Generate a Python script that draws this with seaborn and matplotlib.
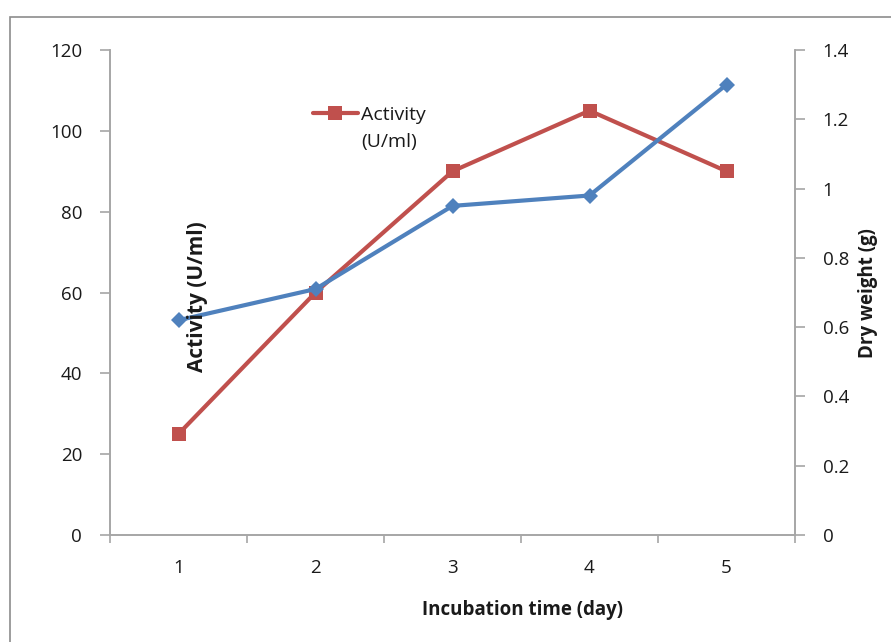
import matplotlib
matplotlib.use("Agg")
import matplotlib.pyplot as plt
import seaborn as sns
import pandas as pd
from matplotlib.patches import Rectangle
from matplotlib.lines import Line2D

days = [1, 2, 3, 4, 5]
activity = [25, 60, 90, 105, 90]
dry_weight = [0.62, 0.71, 0.95, 0.98, 1.30]
left_ticks = [0, 20, 40, 60, 80, 100, 120]
right_ticks = [0, 0.2, 0.4, 0.6, 0.8, 1.0, 1.2, 1.4]
right_labels = ["0", "0.2", "0.4", "0.6", "0.8", "1", "1.2", "1.4"]

sns.set_theme(style="white")
plt.rcParams['font.family'] = ['Open Sans', 'DejaVu Sans']

RED = "#C0504D"
BLUE = "#4F81BD"
GRAY = "#A6A6A6"
TXT = "#1A1A1A"

df = pd.DataFrame({"day": days, "activity": activity, "dry": dry_weight})

fig = plt.figure(figsize=(8.91, 6.42), dpi=100)
fig.patches.append(Rectangle((10/891, -0.1), 1.2, 1 - 17/642 + 0.1, transform=fig.transFigure,
                             fill=False, edgecolor="#8C8C8C", linewidth=1.2))
ax = fig.add_axes([110/891, 1 - 535/642, (795-110)/891, (535-50)/642])
ax2 = ax.twinx()

sns.lineplot(data=df, x="day", y="activity", ax=ax, color=RED, linewidth=3,
             marker="s", markersize=10, markeredgewidth=0, legend=False)
sns.lineplot(data=df, x="day", y="dry", ax=ax2, color=BLUE, linewidth=3,
             marker="D", markersize=8, markeredgewidth=0, legend=False)

ax.set_xlim(0.5, 5.5)
ax.set_ylim(0, 120)
ax2.set_ylim(0, 1.4)
ax.set_yticks(left_ticks)
ax.set_yticklabels([str(t) for t in left_ticks])
ax2.set_yticks(right_ticks)
ax2.set_yticklabels(right_labels)

ax.set_xticks([0.5, 1.5, 2.5, 3.5, 4.5, 5.5], minor=False)
ax.set_xticklabels([])
ax.set_xticks(days, minor=True)
ax.set_xticklabels([str(d) for d in days], minor=True)
ax.tick_params(axis="x", which="major", direction="out", length=6, width=1.2, color=GRAY, bottom=True)
ax.tick_params(axis="x", which="minor", length=0, labelsize=13.5, labelcolor=TXT, pad=17)
ax.tick_params(axis="y", direction="out", length=7, width=1.2, color=GRAY, left=True, labelsize=13.5, labelcolor=TXT, pad=13)
ax2.tick_params(axis="y", direction="out", length=7, width=1.2, color=GRAY, right=True, labelsize=13.5, labelcolor=TXT, pad=13)

for a in (ax, ax2):
    for s in a.spines.values():
        s.set_color(GRAY)
        s.set_linewidth(1.2)
    a.spines["top"].set_visible(False)
    a.grid(False)
ax.set_xlabel("")
ax.set_ylabel("")
ax2.set_ylabel("")

fig.text(522/891, 1 - 610/642, "Incubation time (day)", ha="center", va="center",
         fontsize=13.5, fontweight="bold", color=TXT)
fig.text(198/891, 1 - 297/642, "Activity (U/ml)", ha="center", va="center", rotation=90,
         fontsize=15, fontweight="bold", color=TXT)
fig.text(868/891, 1 - 293/642, "Dry weight (g)", ha="center", va="center", rotation=90,
         fontsize=13.5, fontweight="bold", color=TXT)

handle = Line2D([], [], color=RED, linewidth=3, marker="s", markersize=10, markeredgewidth=0)
leg = ax2.legend([handle], ["Activity"], loc="center left",
                 bbox_to_anchor=(313/891, 1 - 115/642), bbox_transform=fig.transFigure,
                 frameon=False, fontsize=14, handlelength=2.3, handletextpad=0.15,
                 borderpad=0, borderaxespad=0)
for t in leg.get_texts():
    t.set_color(TXT)
fig.text(361/891, 1 - 142/642, "(U/ml)", ha="left", va="center", fontsize=14, color=TXT)

fig.savefig("out.png", dpi=100)
